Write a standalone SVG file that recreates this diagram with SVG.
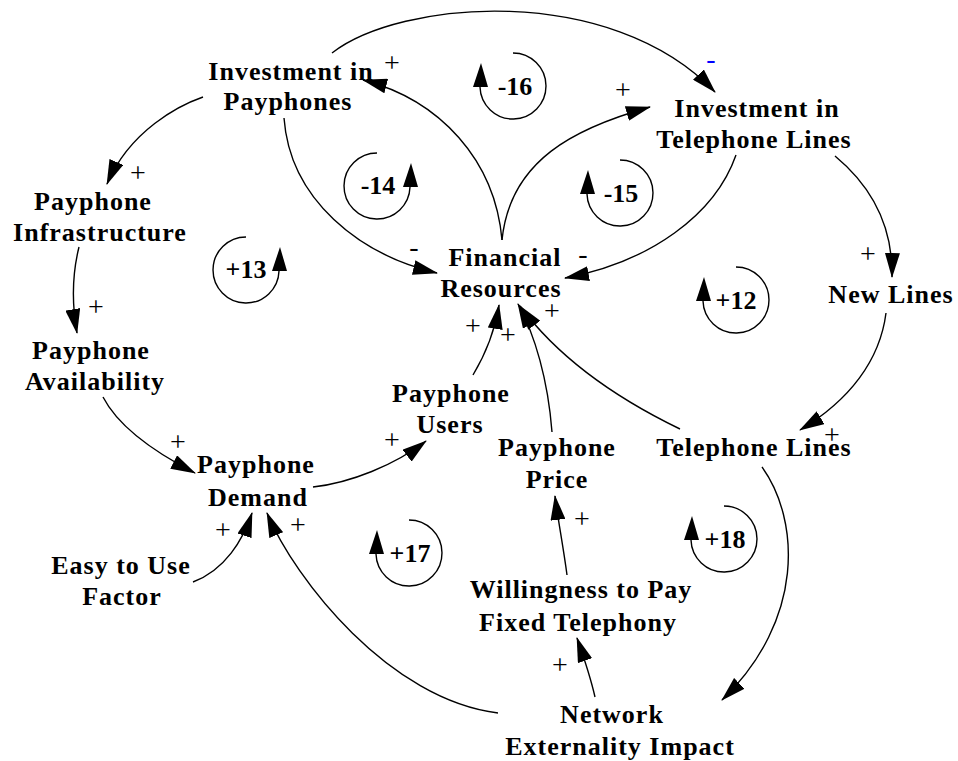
<svg xmlns="http://www.w3.org/2000/svg" width="958" height="761" viewBox="0 0 958 761">
<style>
.n{font-family:"Liberation Serif","Times New Roman",serif;font-weight:bold;font-size:26px;letter-spacing:1px;fill:#000;text-anchor:middle}
.p{font-family:"Liberation Serif","Times New Roman",serif;font-size:28px;fill:#000;text-anchor:middle}
.b{fill:#0000ff}
.c{fill:none;stroke:#000;stroke-width:1.4;marker-end:url(#ah)}
.lp{fill:none;stroke:#000;stroke-width:1.4}
.l{font-family:"Liberation Serif","Times New Roman",serif;font-weight:bold;font-size:26px;fill:#000;text-anchor:middle}
</style>
<defs>
<marker id="ah" markerUnits="userSpaceOnUse" markerWidth="25" markerHeight="15" refX="24" refY="7.5" orient="auto" viewBox="0 0 25 15">
<path d="M0,0 L25,7.5 L0,15 z" fill="#000"/>
</marker>
<g id="loopCW">
<path class="lp" d="M0,-33 A33,33 0 1 1 -33,1"/>
<path d="M-40,1 L-25,1 L-32,-23 z" fill="#000"/>
</g>
<g id="loopCCW">
<path class="lp" d="M0,-33 A33,33 0 1 0 33,1"/>
<path d="M26,1 L41,1 L34,-23 z" fill="#000"/>
</g>
</defs>
<rect width="958" height="761" fill="#fff"/>

<g id="connectors">
<path class="c" d="M332,53 C400,0 610,-18 715,92"/>
<path class="c" d="M502,240 C495,160 440,100 363,80"/>
<path class="c" d="M502,240 C510,160 575,128 650,107"/>
<path class="c" d="M284,118 C290,200 360,255 437,273"/>
<path class="c" d="M203,97 C180,105 130,130 107,184"/>
<path class="c" d="M79,247 C72,275 72,305 77,333"/>
<path class="c" d="M103,397 C120,430 160,455 195,473"/>
<path class="c" d="M313,487 C350,483 395,465 426,441"/>
<path class="c" d="M193,582 C225,570 243,540 252,513"/>
<path class="c" d="M498,713 C390,700 295,580 267,513"/>
<path class="c" d="M595,697 C590,675 583,655 577,638"/>
<path class="c" d="M567,575 C563,545 558,520 555,496"/>
<path class="c" d="M552,432 C548,380 535,335 518,304"/>
<path class="c" d="M473,375 C485,355 495,330 499,305"/>
<path class="c" d="M680,429 C620,400 560,360 520,306"/>
<path class="c" d="M736,155 C715,215 650,262 565,278"/>
<path class="c" d="M835,156 C870,185 893,225 892,277"/>
<path class="c" d="M886,313 C880,360 850,400 800,430"/>
<path class="c" d="M762,467 C800,520 805,620 722,700"/>
</g>

<g id="polarities">
<text class="p" x="392" y="72">+</text>
<text class="p b" x="711" y="68">-</text>
<text class="p" x="623" y="99">+</text>
<text class="p" x="414" y="256">-</text>
<text class="p" x="583" y="263">-</text>
<text class="p" x="138" y="182">+</text>
<text class="p" x="96" y="316">+</text>
<text class="p" x="178" y="451">+</text>
<text class="p" x="392" y="449">+</text>
<text class="p" x="473" y="335">+</text>
<text class="p" x="508" y="344">+</text>
<text class="p" x="552" y="320">+</text>
<text class="p" x="868" y="263">+</text>
<text class="p" x="832" y="444">+</text>
<text class="p" x="223" y="539">+</text>
<text class="p" x="298" y="534">+</text>
<text class="p" x="582" y="528">+</text>
<text class="p" x="560" y="674">+</text>
</g>

<g id="loops">
<use href="#loopCW" transform="translate(513,86)"/><text class="l" x="515" y="95">-16</text>
<use href="#loopCW" transform="translate(620,193)"/><text class="l" x="621" y="202">-15</text>
<use href="#loopCW" transform="translate(736,300)"/><text class="l" x="736" y="309">+12</text>
<use href="#loopCW" transform="translate(409,553)"/><text class="l" x="410" y="562">+17</text>
<use href="#loopCW" transform="translate(724,539)"/><text class="l" x="725" y="548">+18</text>
<use href="#loopCCW" transform="translate(377,186)"/><text class="l" x="378" y="194">-14</text>
<use href="#loopCCW" transform="translate(246,270)"/><text class="l" x="246" y="278">+13</text>
</g>

<g id="investment-payphones"><text class="n" x="291" y="80">Investment in</text><text class="n" x="288" y="110">Payphones</text></g>
<g id="investment-telephone-lines"><text class="n" x="757" y="117">Investment in</text><text class="n" x="754" y="148">Telephone Lines</text></g>
<g id="payphone-infrastructure"><text class="n" x="93" y="210">Payphone</text><text class="n" x="100" y="241">Infrastructure</text></g>
<g id="payphone-availability"><text class="n" x="91" y="359">Payphone</text><text class="n" x="95" y="390">Availability</text></g>
<g id="financial-resources"><text class="n" x="505" y="266">Financial</text><text class="n" x="501" y="297">Resources</text></g>
<g id="new-lines"><text class="n" x="891" y="303">New Lines</text></g>
<g id="telephone-lines"><text class="n" x="754" y="456">Telephone Lines</text></g>
<g id="payphone-users"><text class="n" x="451" y="402">Payphone</text><text class="n" x="450" y="433">Users</text></g>
<g id="payphone-price"><text class="n" x="557" y="456">Payphone</text><text class="n" x="557" y="488">Price</text></g>
<g id="payphone-demand"><text class="n" x="256" y="473">Payphone</text><text class="n" x="258" y="506">Demand</text></g>
<g id="easy-to-use"><text class="n" x="121" y="574">Easy to Use</text><text class="n" x="122" y="605">Factor</text></g>
<g id="willingness"><text class="n" x="581" y="598">Willingness to Pay</text><text class="n" x="578" y="631">Fixed Telephony</text></g>
<g id="network-externality"><text class="n" x="612" y="723">Network</text><text class="n" x="620" y="755">Externality Impact</text></g>
</svg>
